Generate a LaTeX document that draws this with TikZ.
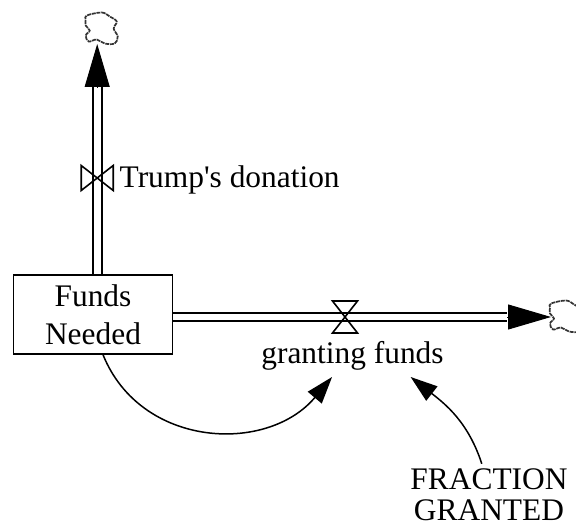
\documentclass[tikz,border=0pt]{standalone}
\usepackage{fontspec}
\setmainfont{Liberation Serif}
\usetikzlibrary{arrows.meta}
\tikzset{
  lbl/.style={font=\fontsize{31.4}{38}\selectfont, inner sep=0pt, align=center},
  pipe/.style={double, double distance=6.8pt, line width=1.9pt},
  pipetip/.style={-{Triangle[length=43pt, width=25pt]}, line width=1pt},
  linkarrow/.style={-{Triangle[length=27pt, width=18pt]}, line width=1.5pt},
  valve/.pic={
    \draw[line width=1.6pt] (-12.5,-16) -- (12.5,-16) -- (-12.5,16) -- (12.5,16) -- cycle;
  },
  cloudend/.pic={
    \draw[black!80, line width=1.7pt, dash pattern=on 4pt off 0.8pt] plot[smooth cycle, tension=0.6] coordinates {
      (-15,-13) (0,-16) (8,-12) (15,-7) (12,0) (16,8) (13,15) (3,15) (-5,11) (-13,13) (-16,7) (-12,2) (-16,-3) (-16,-9)};
  },
}
\begin{document}
\begin{tikzpicture}[x=1pt, y=-1pt]
        \useasboundingbox (0,0) rectangle (576,527);
        
        % -------- stock and labels --------
        \node[lbl, draw, line width=1.6pt, minimum width=159pt, minimum height=79pt] (stock) at (93,314.5) {Funds\\Needed};
        \node[lbl, anchor=base west] (trump) at (119.5,187) {Trump\textquotesingle s donation};
        \node[lbl, anchor=base, inner ysep=6.5pt] (granting) at (352.5,363.5) {granting funds};
        \node[lbl, inner ysep=5pt] (fraction) at (489,495) {FRACTION\\[-7pt]GRANTED};
        
        \coordinate (upvalve) at (97.2,178);
        \coordinate (upbase) at (97.2,87);
        \coordinate (uptip) at (97.2,44);
        \coordinate (rightvalve) at (345,317);
        \coordinate (rightbase) at (507,317);
        \coordinate (righttip) at (551,317);
        
        % -------- flows --------
        \draw[pipe] (stock.north -| upvalve) -- (upbase);
        \draw[pipetip] (upbase) -- (uptip);
        \draw[pipe] (stock.east |- rightvalve) -- (rightbase);
        \draw[pipetip] (rightbase) -- (righttip);
        
        \pic at (upvalve) [rotate=90] {valve};
        \pic at (rightvalve) {valve};
        
        % clouds
        \pic at (101.7,28.5) {cloudend};
        \pic at (566,316.5) {cloudend};
        
        % -------- links --------
        \draw[linkarrow] (stock.284) to[out=-68, in=230, looseness=1.12] (granting.226);
        \draw[linkarrow] (fraction.103) to[out=108, in=-38, looseness=1] (granting.340);
\end{tikzpicture}
\end{document}
